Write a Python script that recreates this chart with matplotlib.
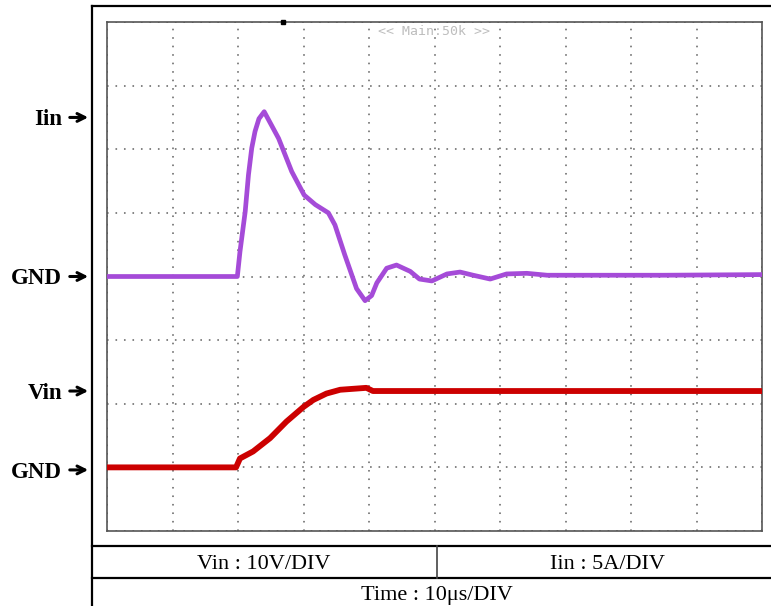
import matplotlib
matplotlib.use("Agg")
import matplotlib.pyplot as plt
from matplotlib.lines import Line2D

# ---- data (in oscilloscope divisions) ----
iin_time = [0.0, 1.99, 2.03, 2.11, 2.16, 2.21, 2.26, 2.32, 2.40, 2.51, 2.62, 2.82, 3.01,
            3.18, 3.38, 3.48, 3.63, 3.81, 3.94, 4.04, 4.12, 4.27, 4.42, 4.63, 4.77,
            4.96, 5.19, 5.39, 5.59, 5.85, 6.10, 6.41, 6.72, 7.50, 8.50, 10.0]
iin_level = [4.0, 4.0, 4.39, 5.02, 5.60, 6.02, 6.28, 6.48, 6.59, 6.38, 6.17, 5.65, 5.28,
             5.13, 5.00, 4.81, 4.34, 3.81, 3.62, 3.70, 3.90, 4.13, 4.18, 4.08, 3.96,
             3.93, 4.04, 4.07, 4.02, 3.96, 4.04, 4.05, 4.02, 4.02, 4.02, 4.03]

vin_time = [0.0, 1.97, 2.03, 2.23, 2.49, 2.74, 3.00, 3.15, 3.35, 3.56, 3.96, 4.06, 10.0]
vin_level = [1.0, 1.0, 1.14, 1.25, 1.46, 1.72, 1.95, 2.06, 2.16, 2.22, 2.25, 2.20, 2.20]

trigger_pos = 2.69
n_xdiv, n_ydiv = 10, 8

channel_labels = ["Iin", "GND", "Vin", "GND"]
channel_label_y = [6.5, 4.0, 2.2, 0.96]      # arrow heights in divisions
table_row1 = ["Vin : 10V/DIV", "Iin : 5A/DIV"]
table_row2 = "Time : 10\u03bcs/DIV"
scope_note = "<< Main:50k >>"

# ---- figure ----
W, H = 771, 606
fig = plt.figure(figsize=(W / 100, H / 100), dpi=100)
fig.patch.set_facecolor("white")

def fx(px):
    return px / W

def fy(py):
    return 1 - py / H

ax = fig.add_axes([fx(107), fy(531), fx(762) - fx(107), fy(22) - fy(531)])
ax.set_xlim(0, n_xdiv)
ax.set_ylim(0, n_ydiv)
ax.set_xticks(range(n_xdiv + 1))
ax.set_yticks(range(n_ydiv + 1))
ax.tick_params(length=0, labelbottom=False, labelleft=False)
ax.grid(True, color="#7a7a7a", linestyle=(0, (0.9, 3.8)), linewidth=1.3)
for s in ax.spines.values():
    s.set_color("#555555")
    s.set_linewidth(1.2)

ax.plot(iin_time, iin_level, color="#a54bd8", lw=3.4, solid_joinstyle="round", zorder=3)
ax.plot(vin_time, vin_level, color="#cc0000", lw=4.2, solid_joinstyle="round", zorder=3)
ax.plot([trigger_pos], [n_ydiv], marker="s", ms=2.5, color="black", clip_on=False, zorder=4)

ax.text(0.499, 0.981, scope_note, transform=ax.transAxes, ha="center", va="center",
        family="DejaVu Sans Mono", fontsize=9.5, color="#bdbdbd")

# ---- channel labels with arrows ----
for lab, lv in zip(channel_labels, channel_label_y):
    ypx = 531 - lv * (509 / n_ydiv)
    fig.text(fx(62), fy(ypx), lab, ha="right", va="center_baseline",
             family="Liberation Serif", fontweight="bold", fontsize=16.5)
    fig.add_artist(matplotlib.patches.FancyArrowPatch(
        (fx(67), fy(ypx)), (fx(91), fy(ypx)), transform=fig.transFigure,
        arrowstyle="->", mutation_scale=14, lw=2.2, color="black"))

# ---- frame and table ----
lk = dict(color="black", lw=1.6, transform=fig.transFigure)
fig.add_artist(Line2D([fx(92), fx(92)], [fy(6), fy(606)], **lk))
fig.add_artist(Line2D([fx(92), 1], [fy(6), fy(6)], **lk))
fig.add_artist(Line2D([fx(92), 1], [fy(546), fy(546)], **lk))
fig.add_artist(Line2D([fx(92), 1], [fy(578), fy(578)], **lk))
fig.add_artist(Line2D([fx(437), fx(437)], [fy(546), fy(578)], color="#444444", lw=1.2,
                      transform=fig.transFigure))

fig.text(fx(264), fy(562), table_row1[0], ha="center", va="center_baseline",
         family="Liberation Serif", fontsize=16)
fig.text(fx(607), fy(562), table_row1[1], ha="center", va="center_baseline",
         family="Liberation Serif", fontsize=16)
fig.text(fx(437), fy(593), table_row2, ha="center", va="center_baseline",
         family="Liberation Serif", fontsize=16)

fig.savefig("out.png", dpi=100)
